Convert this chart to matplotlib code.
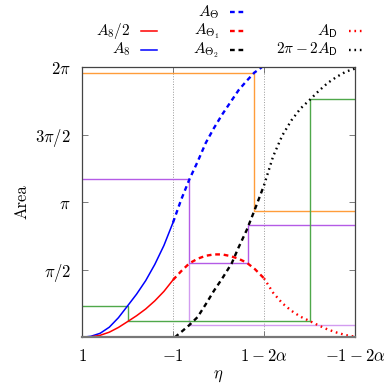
import matplotlib
matplotlib.use('Agg')
import matplotlib.pyplot as plt
from matplotlib.lines import Line2D

plt.rcParams['font.family'] = 'serif'
plt.rcParams['font.serif'] = ['cmr10', 'DejaVu Serif']
plt.rcParams['mathtext.fontset'] = 'cm'
plt.rcParams['axes.unicode_minus'] = True

# x positions are in tick units: 0 -> 1, 1 -> -1, 2 -> 1-2a, 3 -> -1-2a
# y values are in units of pi
xtick_labels = [r'$1$', r'$-1$', r'$1-2\alpha$', r'$-1-2\alpha$']
ytick_vals = [0.5, 1.0, 1.5, 2.0]
ytick_labels = [r'$\pi/2$', r'$\pi$', r'$3\pi/2$', r'$2\pi$']

# A8 (blue solid)
a8_x = [0.0, 0.1, 0.2, 0.3, 0.4, 0.5, 0.6, 0.7, 0.8, 0.9, 1.0]
a8_y = [0.0, 0.008, 0.03, 0.075, 0.145, 0.232, 0.32, 0.42, 0.54, 0.68, 0.85]

# A8/2 (red solid)
a8h_x = [0.0, 0.1, 0.2, 0.3, 0.4, 0.5, 0.6, 0.7, 0.8, 0.9, 1.0]
a8h_y = [0.0, 0.004, 0.015, 0.038, 0.073, 0.116, 0.16, 0.21, 0.27, 0.34, 0.425]

# A_Theta (blue dashed)
ath_x = [1.0, 1.09, 1.18, 1.27, 1.36, 1.45, 1.54, 1.63, 1.72, 1.81, 1.893, 1.975]
ath_y = [0.85, 1.02, 1.17, 1.30, 1.44, 1.55, 1.65, 1.74, 1.83, 1.90, 1.96, 2.0]

# A_Theta1 (red dashed)
ath1_x = [1.0, 1.09, 1.18, 1.27, 1.36, 1.45, 1.54, 1.63, 1.72, 1.81, 1.9, 2.0]
ath1_y = [0.425, 0.49, 0.548, 0.582, 0.604, 0.614, 0.614, 0.602, 0.582, 0.553, 0.505, 0.437]

# A_Theta2 (black dashed)
ath2_x = [1.02, 1.1, 1.18, 1.27, 1.36, 1.45, 1.54, 1.645, 1.72, 1.81, 1.893, 2.0]
ath2_y = [0.0, 0.045, 0.091, 0.15, 0.245, 0.345, 0.435, 0.548, 0.665, 0.795, 0.936, 1.126]

# A_D (red dotted)
ad_x = [2.0, 2.1, 2.2, 2.3, 2.4, 2.51, 2.6, 2.7, 2.8, 2.9, 3.0]
ad_y = [0.437, 0.33, 0.253, 0.197, 0.153, 0.118, 0.088, 0.058, 0.035, 0.016, 0.005]

# 2pi - 2A_D (black dotted)
bd_x = [2.0, 2.1, 2.2, 2.3, 2.4, 2.51, 2.6, 2.7, 2.8, 2.9, 3.0]
bd_y = [1.126, 1.34, 1.494, 1.606, 1.694, 1.764, 1.824, 1.884, 1.93, 1.968, 1.99]

# cobweb step paths
orange_x = [0.0, 1.893, 1.893, 3.0]
orange_y = [1.96, 1.96, 0.936, 0.936]
purple_x = [0.0, 1.18, 1.18, 1.828, 1.828, 3.0]
purple_y = [1.17, 1.17, 0.548, 0.548, 0.832, 0.832]
purple2_x = [1.18, 1.18, 3.0]
purple2_y = [0.548, 0.091, 0.091]
green_x = [0.0, 0.505, 0.505, 2.51, 2.51, 3.0]
green_y = [0.235, 0.235, 0.118, 0.118, 1.764, 1.764]

c_orange = '#ff9d3a'
c_purple = '#b45be6'
c_green = '#4fa84a'

DASH = (2.0, 1.6)
DOT = (0.7, 1.6)

fig = plt.figure(figsize=(3.91, 3.91), dpi=100)
ax = fig.add_axes([0.2097, 0.1373, 0.6983, 0.6906])

ax.plot(orange_x, orange_y, color=c_orange, lw=1.0)
ax.plot(purple_x, purple_y, color=c_purple, lw=1.0)
ax.plot(purple2_x, purple2_y, color=c_purple, lw=1.0, alpha=0.6)
ax.plot(green_x, green_y, color=c_green, lw=1.0)

ax.plot(a8_x, a8_y, color='blue', lw=1.1)
ax.plot(a8h_x, a8h_y, color='red', lw=1.1)
ax.plot(ath_x, ath_y, color='blue', lw=1.7, dashes=DASH)
ax.plot(ath1_x, ath1_y, color='red', lw=1.7, dashes=DASH)
ax.plot(ath2_x, ath2_y, color='black', lw=1.7, dashes=DASH)
ax.plot(ad_x, ad_y, color='red', lw=1.7, dashes=DOT)
ax.plot(bd_x, bd_y, color='black', lw=1.7, dashes=DOT)

ax.set_xlim(0, 3)
ax.set_ylim(0, 2)
ax.set_xticks(range(4))
ax.set_xticklabels(xtick_labels, fontsize=12)
ax.set_yticks(ytick_vals)
ax.set_yticklabels(ytick_labels, fontsize=12)
ax.tick_params(direction='in', top=True, right=True, length=4, width=0.6,
               color='#666666', pad=8)
ax.grid(axis='x', linestyle=':', color='#999999', lw=0.7)
for s in ax.spines.values():
    s.set_color('#444444')
    s.set_linewidth(0.9)
ax.spines['bottom'].set_color('#777777')
ax.spines['bottom'].set_linewidth(1.6)

fig.text(22 / 391, 1 - 202 / 391, 'Area', rotation=90, fontsize=12,
         ha='center', va='center')
fig.text(218 / 391, 1 - 376 / 391, r'$\eta$', fontsize=12, ha='center', va='center')

# legend, gnuplot style: label right-aligned, sample to its right
legend_items = [
    (r'$A_\Theta$', 219, 12, 'blue', DASH),
    (r'$A_8/2$', 130, 31, 'red', None),
    (r'$A_{\Theta_1}$', 219, 31, 'red', DASH),
    (r'$A_{\mathsf{D}}$', 338, 31, 'red', DOT),
    (r'$A_8$', 130, 49.5, 'blue', None),
    (r'$A_{\Theta_2}$', 219, 49.5, 'black', DASH),
    (r'$2\pi-2A_{\mathsf{D}}$', 338, 49.5, 'black', DOT),
]
for label, xr, yc, col, dash in legend_items:
    fig.text(xr / 391, 1 - (yc + 4) / 391, label, fontsize=11, ha='right', va='baseline')
    ln = Line2D([(xr + 11) / 391, (xr + 27) / 391], [1 - yc / 391, 1 - yc / 391],
                transform=fig.transFigure, color=col, lw=1.1 if dash is None else 1.7)
    if dash is not None:
        ln.set_dashes(dash)
    fig.add_artist(ln)

fig.savefig('out.png', dpi=100)
